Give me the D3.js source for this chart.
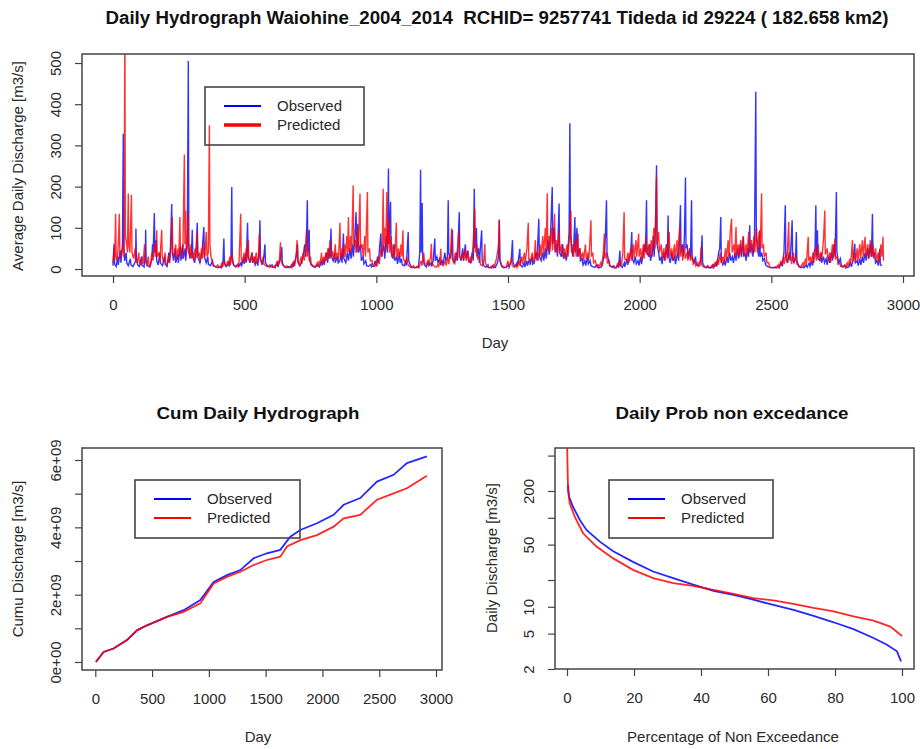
<!DOCTYPE html>
<html>
<head>
<meta charset="utf-8">
<script src="https://cdn.jsdelivr.net/npm/d3@7"></script>
<style>
  body { margin: 0; background: #fff; }
  svg text { font-family: "Liberation Sans", Arial, Helvetica, sans-serif; fill: #2a2a2a; }
</style>
</head>
<body>
<svg id="chart" width="920" height="749"></svg>
<script>
// ---- data ----
// daily hydrograph, [day, m3/s]
var observedDaily = [[0,8],[4,61],[6,12],[12,6],[18,30],[20,10],[28,45],[30,15],[36,60],[39,328],[41,50],[44,20],[50,40],[52,15],[58,8],[66,25],[68,10],[76,6],[86,20],[87,98],[89,25],[94,10],[100,6],[108,30],[110,10],[118,5],[123,40],[124,95],[126,20],[132,8],[140,5],[148,25],[150,60],[152,30],[157,136],[159,40],[164,70],[166,20],[172,10],[178,40],[180,15],[188,8],[196,30],[198,12],[205,6],[212,40],[214,15],[218,50],[223,158],[225,40],[230,20],[236,50],[238,15],[246,35],[248,15],[256,55],[258,20],[265,60],[267,25],[274,50],[276,20],[282,60],[286,505],[288,60],[292,25],[298,40],[301,95],[303,30],[310,15],[315,40],[320,112],[322,30],[330,15],[338,40],[345,102],[347,30],[354,15],[360,30],[362,12],[370,8],[378,20],[380,8],[390,5],[398,3],[406,6],[412,3],[418,20],[421,74],[423,15],[430,6],[440,15],[442,6],[448,30],[451,199],[453,30],[458,10],[466,5],[474,12],[476,5],[486,15],[488,6],[496,30],[498,12],[504,35],[506,15],[511,112],[513,30],[520,15],[528,40],[530,15],[538,30],[540,10],[548,20],[550,8],[555,40],[558,118],[560,25],[566,10],[572,25],[577,60],[579,15],[586,8],[594,5],[604,10],[606,5],[614,4],[624,15],[626,5],[634,20],[638,35],[641,53],[643,15],[650,6],[658,3],[668,6],[676,4],[684,15],[686,5],[692,20],[697,35],[701,60],[703,15],[710,8],[718,20],[724,40],[728,60],[732,30],[735,80],[738,167],[740,40],[745,95],[747,20],[752,10],[760,6],[768,4],[776,10],[784,5],[792,20],[794,8],[800,25],[802,10],[808,30],[812,40],[815,15],[820,50],[824,25],[828,98],[830,30],[836,20],[842,40],[844,15],[852,30],[855,15],[862,20],[866,40],[870,15],[875,86],[877,25],[884,15],[890,40],[894,20],[900,50],[904,25],[910,60],[913,30],[918,70],[923,138],[926,40],[930,110],[933,40],[940,60],[943,20],[950,30],[953,12],[960,20],[963,8],[970,6],[980,12],[982,5],[990,8],[996,20],[998,8],[1005,30],[1008,15],[1012,50],[1017,86],[1020,30],[1028,60],[1032,25],[1038,80],[1042,40],[1046,244],[1048,60],[1054,163],[1056,40],[1062,25],[1068,60],[1070,20],[1078,30],[1080,12],[1088,40],[1090,15],[1096,25],[1098,10],[1106,8],[1112,20],[1114,8],[1121,90],[1123,20],[1130,8],[1138,4],[1146,3],[1154,6],[1160,4],[1165,40],[1168,241],[1170,40],[1174,160],[1176,30],[1182,10],[1190,5],[1198,20],[1200,8],[1208,15],[1210,6],[1216,20],[1222,74],[1224,20],[1230,30],[1234,15],[1240,25],[1244,12],[1250,20],[1254,10],[1260,40],[1264,20],[1270,30],[1273,167],[1275,40],[1280,25],[1285,40],[1289,95],[1291,25],[1298,15],[1304,40],[1308,20],[1315,138],[1317,30],[1322,20],[1328,50],[1331,20],[1338,60],[1341,25],[1348,45],[1350,20],[1358,15],[1364,40],[1368,20],[1372,195],[1374,50],[1380,100],[1382,30],[1388,50],[1391,15],[1400,94],[1402,20],[1408,8],[1416,4],[1424,10],[1426,4],[1434,3],[1442,8],[1444,3],[1452,4],[1460,15],[1464,30],[1467,120],[1469,20],[1476,6],[1484,3],[1494,4],[1502,10],[1504,4],[1512,20],[1517,70],[1519,15],[1526,6],[1534,15],[1536,5],[1545,49],[1547,10],[1554,5],[1562,15],[1564,5],[1572,20],[1574,8],[1582,25],[1584,10],[1592,30],[1594,12],[1600,15],[1606,40],[1610,20],[1617,122],[1619,30],[1626,20],[1632,40],[1636,20],[1642,50],[1645,25],[1652,70],[1656,35],[1662,90],[1668,199],[1670,60],[1676,100],[1679,40],[1685,60],[1688,30],[1694,159],[1696,40],[1702,30],[1708,60],[1711,25],[1718,40],[1721,20],[1728,50],[1732,90],[1735,354],[1737,80],[1742,50],[1746,30],[1750,60],[1754,126],[1756,40],[1762,100],[1765,30],[1772,50],[1775,20],[1782,25],[1785,10],[1792,20],[1795,8],[1802,30],[1805,12],[1812,20],[1815,8],[1822,6],[1830,4],[1838,10],[1840,4],[1848,3],[1856,6],[1860,15],[1866,40],[1870,80],[1874,167],[1876,40],[1882,20],[1886,8],[1894,5],[1902,8],[1904,3],[1912,3],[1918,10],[1920,4],[1925,45],[1927,8],[1934,4],[1942,15],[1944,5],[1952,25],[1955,10],[1962,30],[1966,40],[1970,90],[1972,25],[1978,15],[1984,30],[1987,12],[1994,20],[1997,8],[2004,30],[2007,12],[2014,40],[2018,60],[2022,40],[2026,167],[2028,40],[2034,30],[2038,60],[2041,20],[2048,40],[2052,80],[2055,30],[2060,100],[2064,252],[2066,60],[2072,40],[2076,20],[2082,30],[2085,12],[2092,40],[2096,20],[2102,60],[2105,30],[2108,130],[2110,30],[2116,15],[2122,40],[2126,20],[2132,30],[2136,12],[2144,40],[2148,20],[2155,155],[2157,40],[2162,60],[2166,30],[2170,80],[2174,222],[2176,50],[2180,60],[2184,25],[2190,50],[2193,25],[2197,167],[2199,30],[2206,15],[2212,30],[2215,10],[2222,8],[2230,20],[2233,25],[2237,82],[2239,15],[2246,6],[2254,3],[2262,6],[2264,3],[2272,3],[2280,10],[2282,4],[2290,15],[2293,6],[2300,40],[2304,50],[2308,126],[2310,20],[2316,10],[2322,20],[2325,8],[2332,30],[2336,15],[2342,40],[2346,20],[2352,30],[2356,15],[2362,40],[2366,20],[2372,50],[2376,25],[2382,60],[2386,30],[2393,78],[2395,30],[2400,40],[2404,20],[2410,50],[2414,30],[2418,106],[2420,40],[2426,60],[2430,30],[2436,70],[2441,430],[2443,80],[2448,50],[2452,30],[2456,94],[2458,30],[2464,40],[2468,20],[2474,25],[2478,10],[2486,6],[2494,4],[2502,3],[2510,4],[2518,3],[2526,6],[2530,3],[2538,15],[2542,6],[2548,40],[2553,155],[2555,30],[2562,15],[2568,40],[2572,20],[2579,118],[2581,25],[2586,15],[2592,30],[2595,90],[2597,20],[2604,6],[2612,3],[2620,6],[2624,3],[2632,10],[2636,4],[2644,15],[2647,6],[2654,20],[2657,8],[2662,40],[2666,50],[2669,155],[2671,30],[2675,94],[2677,25],[2684,20],[2688,40],[2691,15],[2698,30],[2702,15],[2708,25],[2712,10],[2718,30],[2722,15],[2728,40],[2732,20],[2738,60],[2742,30],[2747,187],[2749,40],[2756,15],[2762,25],[2766,8],[2774,5],[2782,8],[2785,3],[2794,5],[2800,15],[2804,5],[2810,20],[2817,61],[2819,15],[2826,20],[2830,8],[2836,25],[2840,10],[2846,30],[2850,15],[2856,40],[2860,20],[2866,50],[2870,25],[2876,60],[2880,30],[2884,134],[2886,30],[2892,40],[2896,15],[2902,20],[2906,8],[2912,49],[2914,10],[2920,8]];

var predictedDaily = [[0,15],[4,50],[6,20],[10,134],[12,30],[16,20],[20,60],[24,134],[26,40],[30,25],[36,50],[40,60],[42,30],[45,600],[47,80],[52,60],[55,40],[58,183],[60,60],[64,40],[70,180],[72,40],[78,25],[84,50],[86,20],[92,15],[98,40],[100,15],[106,10],[112,30],[114,12],[120,60],[122,20],[128,10],[134,30],[136,12],[142,8],[148,40],[152,20],[158,60],[162,30],[166,94],[168,30],[174,40],[178,20],[185,95],[187,30],[192,15],[198,40],[200,15],[206,10],[212,30],[215,15],[220,50],[225,126],[227,40],[232,30],[238,60],[241,25],[247,50],[250,30],[254,126],[256,40],[262,50],[265,25],[271,278],[273,60],[276,142],[278,40],[282,60],[285,134],[287,40],[292,30],[296,60],[299,25],[304,40],[307,20],[312,50],[315,25],[320,90],[322,30],[328,40],[331,15],[336,50],[340,25],[346,60],[349,30],[354,90],[357,30],[362,40],[366,349],[368,60],[372,30],[378,15],[384,8],[390,5],[398,10],[400,5],[408,4],[414,15],[416,5],[424,20],[426,8],[432,10],[436,20],[438,8],[444,30],[446,10],[452,40],[454,15],[460,8],[468,6],[476,10],[478,5],[485,134],[487,25],[492,15],[498,40],[500,15],[506,50],[508,20],[514,71],[516,25],[522,20],[528,40],[530,15],[536,30],[538,12],[544,40],[546,15],[552,30],[556,86],[558,25],[564,15],[570,30],[573,12],[580,8],[588,5],[596,10],[598,5],[606,4],[614,8],[616,4],[624,20],[626,6],[632,25],[636,65],[638,20],[644,10],[652,5],[660,8],[662,4],[670,3],[678,10],[680,4],[688,20],[690,8],[696,40],[699,70],[701,20],[708,10],[714,30],[717,12],[722,40],[726,20],[732,60],[735,94],[737,30],[742,50],[745,20],[750,30],[753,12],[760,8],[768,5],[776,15],[778,5],[784,20],[786,8],[792,40],[794,15],[800,30],[802,12],[808,40],[811,20],[816,50],[819,25],[824,70],[827,30],[834,40],[838,20],[844,60],[847,25],[853,40],[856,20],[862,112],[864,30],[870,50],[873,25],[879,60],[882,30],[888,80],[891,40],[894,126],[897,40],[903,80],[906,40],[912,203],[914,60],[920,70],[923,40],[928,100],[931,40],[938,183],[940,50],[946,60],[950,30],[956,80],[959,30],[966,187],[968,40],[974,50],[977,20],[984,20],[987,8],[994,6],[1000,15],[1002,6],[1008,30],[1011,12],[1016,40],[1020,60],[1022,30],[1026,195],[1028,60],[1032,100],[1035,40],[1040,187],[1042,50],[1048,120],[1050,40],[1056,80],[1059,30],[1064,60],[1067,25],[1072,50],[1076,112],[1078,30],[1084,50],[1088,25],[1094,60],[1097,30],[1101,94],[1103,25],[1110,15],[1116,30],[1119,12],[1126,6],[1134,3],[1142,8],[1144,4],[1152,3],[1160,8],[1162,4],[1170,20],[1173,8],[1180,40],[1183,15],[1190,10],[1196,20],[1199,8],[1206,30],[1209,61],[1211,15],[1218,8],[1226,4],[1234,10],[1236,4],[1242,20],[1245,49],[1247,12],[1254,8],[1262,20],[1265,8],[1272,30],[1275,12],[1282,40],[1286,98],[1288,25],[1294,15],[1300,40],[1303,20],[1310,60],[1313,94],[1315,30],[1322,25],[1328,40],[1331,20],[1338,50],[1341,20],[1348,40],[1351,15],[1358,30],[1361,15],[1368,60],[1374,146],[1376,40],[1382,60],[1385,25],[1392,30],[1395,12],[1402,8],[1408,20],[1412,61],[1414,15],[1420,6],[1428,3],[1436,6],[1438,3],[1446,10],[1448,4],[1456,25],[1460,40],[1464,60],[1467,118],[1469,25],[1476,10],[1484,5],[1492,4],[1500,20],[1503,8],[1510,15],[1514,29],[1516,8],[1524,4],[1532,10],[1534,4],[1542,20],[1545,8],[1552,30],[1555,12],[1562,40],[1565,15],[1572,50],[1577,112],[1579,25],[1586,20],[1592,40],[1595,15],[1600,30],[1604,70],[1606,25],[1612,40],[1615,20],[1622,60],[1625,30],[1632,80],[1635,35],[1642,100],[1645,40],[1649,184],[1651,50],[1656,80],[1659,40],[1666,100],[1669,45],[1677,134],[1679,45],[1684,70],[1687,35],[1694,90],[1697,40],[1704,60],[1707,30],[1714,50],[1717,25],[1724,60],[1728,30],[1734,80],[1739,142],[1741,40],[1746,60],[1749,30],[1756,70],[1759,30],[1766,86],[1768,30],[1774,50],[1777,25],[1784,40],[1787,20],[1794,60],[1797,25],[1804,40],[1807,20],[1815,118],[1817,30],[1822,40],[1825,15],[1832,20],[1835,8],[1842,10],[1845,4],[1852,15],[1855,6],[1862,40],[1866,86],[1868,25],[1874,40],[1877,15],[1884,20],[1887,8],[1894,5],[1902,3],[1910,4],[1918,15],[1921,6],[1928,20],[1931,8],[1936,40],[1941,138],[1943,25],[1950,20],[1956,40],[1959,15],[1966,50],[1969,20],[1976,60],[1979,25],[1986,70],[1989,30],[1996,86],[1998,30],[2004,50],[2007,20],[2014,60],[2017,25],[2024,80],[2027,35],[2034,60],[2037,30],[2044,70],[2047,30],[2054,100],[2058,50],[2064,223],[2066,60],[2072,90],[2075,40],[2082,60],[2085,25],[2092,50],[2095,20],[2102,60],[2105,25],[2112,90],[2115,30],[2122,50],[2125,20],[2132,60],[2135,25],[2142,70],[2145,30],[2152,102],[2154,30],[2160,50],[2163,20],[2170,60],[2173,25],[2180,40],[2183,20],[2190,50],[2193,20],[2200,30],[2203,12],[2210,20],[2213,8],[2220,15],[2223,6],[2230,10],[2233,53],[2235,10],[2242,5],[2250,3],[2258,8],[2260,3],[2268,4],[2276,10],[2278,4],[2286,15],[2289,6],[2296,25],[2299,10],[2306,40],[2309,15],[2316,30],[2319,12],[2326,50],[2329,20],[2336,70],[2339,30],[2344,90],[2349,122],[2351,40],[2358,60],[2361,30],[2366,102],[2368,35],[2374,60],[2377,30],[2384,70],[2387,30],[2394,80],[2397,35],[2404,60],[2407,30],[2414,90],[2417,40],[2424,70],[2427,35],[2434,80],[2437,40],[2444,100],[2447,40],[2454,90],[2458,50],[2463,184],[2465,50],[2470,60],[2473,30],[2480,40],[2483,15],[2490,15],[2493,6],[2500,4],[2508,3],[2516,5],[2518,3],[2526,10],[2529,4],[2536,20],[2539,8],[2546,30],[2549,12],[2556,40],[2559,15],[2566,114],[2568,25],[2574,30],[2577,12],[2584,40],[2587,15],[2594,30],[2597,12],[2604,8],[2612,5],[2620,15],[2623,6],[2630,25],[2633,10],[2640,78],[2642,20],[2648,30],[2651,12],[2658,40],[2661,15],[2668,50],[2671,20],[2678,60],[2681,25],[2688,40],[2691,20],[2698,70],[2703,142],[2705,35],[2712,50],[2715,20],[2722,40],[2725,15],[2732,60],[2735,25],[2742,74],[2744,25],[2750,30],[2753,12],[2760,15],[2763,6],[2770,5],[2778,10],[2781,4],[2788,15],[2791,6],[2798,25],[2801,10],[2808,70],[2810,20],[2816,40],[2819,15],[2826,50],[2829,20],[2836,60],[2839,25],[2846,70],[2849,30],[2856,78],[2859,30],[2866,60],[2869,25],[2876,70],[2879,30],[2886,60],[2889,25],[2896,50],[2899,20],[2906,40],[2909,15],[2916,60],[2920,30],[2924,78],[2926,20]];

// cumulative discharge, [day, m3/s summed]
var observedCum = [[5,0],[73,0.30e9],[161,0.40e9],[279,0.65e9],[367,0.94e9],[455,1.09e9],[631,1.34e9],[778,1.54e9],[925,1.84e9],[1042,2.38e9],[1159,2.58e9],[1277,2.73e9],[1394,3.08e9],[1511,3.23e9],[1629,3.33e9],[1717,3.72e9],[1805,3.92e9],[1952,4.12e9],[2099,4.37e9],[2187,4.67e9],[2333,4.87e9],[2480,5.36e9],[2627,5.56e9],[2744,5.91e9],[2920,6.11e9]];
var predictedCum = [[5,0],[73,0.30e9],[161,0.40e9],[279,0.65e9],[367,0.94e9],[455,1.09e9],[631,1.34e9],[778,1.49e9],[925,1.74e9],[1042,2.33e9],[1159,2.53e9],[1277,2.68e9],[1394,2.88e9],[1511,3.03e9],[1629,3.13e9],[1688,3.43e9],[1805,3.62e9],[1952,3.77e9],[2099,4.02e9],[2187,4.27e9],[2333,4.37e9],[2480,4.82e9],[2627,5.01e9],[2744,5.16e9],[2920,5.53e9]];

// flow duration curves, [% non exceedance, m3/s]
var observedFdc = [[0.3,233],[0.6,173],[1.8,133],[3.8,95],[5.8,73],[9.8,54],[13.8,42],[19.7,32],[25.7,24.9],[31.7,21],[37.7,17.7],[43.7,15.1],[49.7,13.6],[55.6,12.0],[61.6,10.5],[67.6,9.25],[73.6,7.9],[79.6,6.7],[85.5,5.6],[91.5,4.46],[95.5,3.75],[98.5,3.16],[99.7,2.44]];
var predictedFdc = [[0,800],[0.3,205],[0.8,146],[2.3,103],[4.8,67],[8.8,47.5],[13.8,35],[19.7,26],[25.7,21],[31.7,18.4],[37.7,17.2],[43.7,15.5],[49.7,14.0],[55.6,12.5],[61.6,11.8],[67.6,10.8],[73.6,9.7],[79.6,8.9],[85.5,7.8],[91.5,7.0],[96.5,6.0],[100,4.7]];

var dayTicks = [0, 500, 1000, 1500, 2000, 2500, 3000];
var flowTicks = [0, 100, 200, 300, 400, 500];
var cumTicks = [0, 1e9, 2e9, 3e9, 4e9, 5e9, 6e9];
var cumLabels = {0: "0e+00", 2e9: "2e+09", 4e9: "4e+09", 6e9: "6e+09"};
var pctTicks = [0, 20, 40, 60, 80, 100];
var fdcTicks = [2, 5, 10, 20, 50, 100, 200, 500];
var fdcLabelled = [2, 5, 10, 50, 200];
var seriesNames = ["Observed", "Predicted"];
var seriesColors = ["#0000ff", "#ff0000"];

var svg = d3.select("#chart");
var ink = "#444";

// box + axes in the style of base R graphics
function drawPanel(box, x, y, xTicks, yTicks, yFormat, id) {
  svg.append("clipPath").attr("id", id)
    .append("rect")
    .attr("x", box.x0).attr("y", box.y0)
    .attr("width", box.x1 - box.x0).attr("height", box.y1 - box.y0);

  var gx = svg.append("g")
    .attr("transform", "translate(0," + box.y1 + ")")
    .call(d3.axisBottom(x).tickValues(xTicks).tickSize(7).tickFormat(d3.format("d")));
  gx.select(".domain").remove();
  gx.selectAll("line").attr("stroke", ink).attr("stroke-width", 1.2);
  gx.selectAll("text").attr("y", 34).attr("dy", 0).style("font-size", "15px");

  var gy = svg.append("g")
    .attr("transform", "translate(" + box.x0 + ",0)")
    .call(d3.axisLeft(y).tickValues(yTicks).tickSize(7).tickFormat(yFormat));
  gy.select(".domain").remove();
  gy.selectAll("line").attr("stroke", ink).attr("stroke-width", 1.2);
  gy.selectAll("text")
    .attr("transform", "rotate(-90)")
    .attr("x", 0).attr("y", -21).attr("dy", 0)
    .attr("text-anchor", "middle")
    .style("font-size", "15px");
}

function drawBox(box) {
  svg.append("rect")
    .attr("x", box.x0).attr("y", box.y0)
    .attr("width", box.x1 - box.x0).attr("height", box.y1 - box.y0)
    .attr("fill", "none").attr("stroke", ink).attr("stroke-width", 1.5);
}

function drawLegend(lx, ly, widths) {
  svg.append("rect")
    .attr("x", lx).attr("y", ly).attr("width", widths[0]).attr("height", 58)
    .attr("fill", "none").attr("stroke", ink).attr("stroke-width", 1.6);
  seriesNames.forEach(function (name, i) {
    var yy = ly + 19 + i * 19;
    svg.append("line")
      .attr("x1", lx + 19).attr("x2", lx + 56)
      .attr("y1", yy).attr("y2", yy)
      .attr("stroke", seriesColors[i]).attr("stroke-width", widths[1 + i]);
    svg.append("text")
      .attr("x", lx + 72).attr("y", yy + 5)
      .style("font-size", "15px")
      .text(name);
  });
}

function axisTitle(x, y, txt, rotate) {
  svg.append("text")
    .attr("transform", "translate(" + x + "," + y + ")" + (rotate ? " rotate(-90)" : ""))
    .attr("text-anchor", "middle")
    .style("font-size", "15px")
    .text(txt);
}

function title(x, y, txt, size, len) {
  svg.append("text")
    .attr("x", x).attr("y", y)
    .attr("text-anchor", "middle")
    .attr("textLength", len).attr("lengthAdjust", "spacingAndGlyphs")
    .style("font-size", size + "px").style("font-weight", "bold")
    .style("white-space", "pre")
    .style("fill", "#111")
    .text(txt);
}

// ---- top: daily hydrograph ----
var box1 = {x0: 82, x1: 914, y0: 54, y1: 276};
var x1 = d3.scaleLinear().domain([0, 3000]).range([113, 903]);
var y1 = d3.scaleLinear().domain([0, 500]).range([269, 63]);
drawPanel(box1, x1, y1, dayTicks, flowTicks, d3.format("d"), "clip1");

var line1 = d3.line().x(function (d) { return x1(d[0]); }).y(function (d) { return y1(d[1]); });
[observedDaily, predictedDaily].forEach(function (s, i) {
  svg.append("path")
    .datum(s)
    .attr("clip-path", "url(#clip1)")
    .attr("d", line1)
    .attr("fill", "none")
    .attr("stroke", seriesColors[i])
    .attr("stroke-opacity", 0.8)
    .attr("stroke-width", 1.4);
});
drawBox(box1);
drawLegend(205, 87, [159, 2, 3.5]);
title(497, 24, "Daily Hydrograph Waiohine_2004_2014  RCHID= 9257741 Tideda id 29224 ( 182.658 km2)", 18, 783);
axisTitle(23, 166, "Average Daily Discharge [m3/s]", true);
axisTitle(495, 348, "Day", false);

// ---- bottom left: cumulative ----
var box2 = {x0: 82, x1: 442, y0: 448, y1: 670};
var x2 = d3.scaleLinear().domain([0, 3000]).range([95.3, 436]);
var y2 = d3.scaleLinear().domain([0, 6e9]).range([662, 460]);
drawPanel(box2, x2, y2, dayTicks, cumTicks, function (d) { return cumLabels[d] || ""; }, "clip2");

var line2 = d3.line().x(function (d) { return x2(d[0]); }).y(function (d) { return y2(d[1]); });
[observedCum, predictedCum].forEach(function (s, i) {
  svg.append("path")
    .datum(s)
    .attr("d", line2)
    .attr("fill", "none")
    .attr("stroke", seriesColors[i])
    .attr("stroke-opacity", 0.85)
    .attr("stroke-width", 1.8);
});
drawBox(box2);
drawLegend(135, 480, [165, 2.2, 2.2]);
title(258, 419, "Cum Daily Hydrograph", 17, 203);
axisTitle(23, 559, "Cumu Discharge [m3/s]", true);
axisTitle(258, 742, "Day", false);

// ---- bottom right: flow duration ----
var box3 = {x0: 555, x1: 914, y0: 448, y1: 669};
var x3 = d3.scaleLinear().domain([0, 100]).range([567, 902]);
var y3 = d3.scaleLog().domain([2, 200]).range([669, 491]);
drawPanel(box3, x3, y3, pctTicks, fdcTicks, function (d) { return fdcLabelled.indexOf(d) >= 0 ? d : ""; }, "clip3");

var line3 = d3.line().x(function (d) { return x3(d[0]); }).y(function (d) { return y3(d[1]); });
[observedFdc, predictedFdc].forEach(function (s, i) {
  svg.append("path")
    .datum(s)
    .attr("clip-path", "url(#clip3)")
    .attr("d", line3)
    .attr("fill", "none")
    .attr("stroke", seriesColors[i])
    .attr("stroke-opacity", 0.85)
    .attr("stroke-width", 1.8);
});
drawBox(box3);
drawLegend(609, 480, [164, 2.2, 2.2]);
title(732, 419, "Daily Prob non excedance", 17, 233);
axisTitle(497, 558, "Daily Discharge [m3/s]", true);
axisTitle(733, 742, "Percentage of Non Exceedance", false);
</script>
</body>
</html>
